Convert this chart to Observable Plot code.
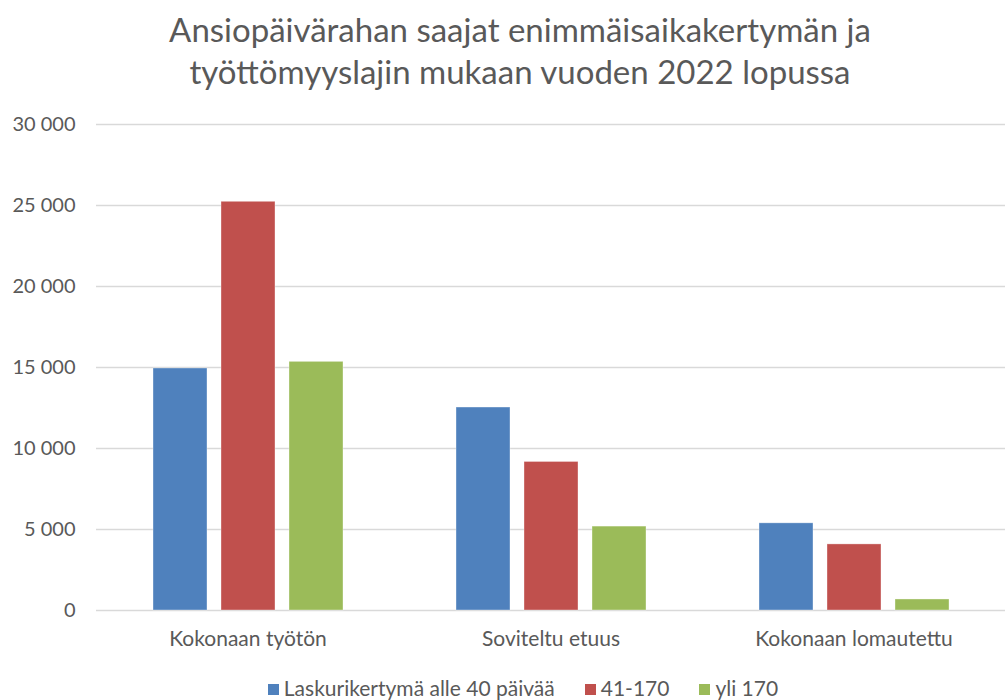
<!DOCTYPE html>
<html>
<head>
<meta charset="utf-8">
<script src="https://cdn.jsdelivr.net/npm/d3@7"></script>
<script src="https://cdn.jsdelivr.net/npm/@observablehq/plot@0.6"></script>
<style>
  html, body { margin: 0; padding: 0; background: #fff; }
  body { width: 1005px; height: 700px; position: relative; overflow: hidden; font-family: Lato, "Open Sans", sans-serif; color: #595959; }
  #title { position: absolute; left: 20px; width: 1000px; top: 8px; text-align: center; font-size: 33px; line-height: 42px; color: #595959; }
  #chart { position: absolute; left: 0; top: 100px; }
  #legend { position: absolute; left: 0; width: 1046px; top: 676px; text-align: center; font-size: 21px; line-height: 24px; color: #595959; white-space: nowrap; }
  #legend span.item { display: inline-block; margin: 0 15px; }
  #legend span.sw { display: inline-block; width: 11px; height: 11px; margin-right: 5px; vertical-align: 1px; }
</style>
</head>
<body>
<div id="title">Ansiopäivärahan saajat enimmäisaikakertymän ja<br>työttömyyslajin mukaan vuoden 2022 lopussa</div>
<div id="chart"></div>
<div id="legend"></div>
<script>
const categories = ["Kokonaan työtön", "Soviteltu etuus", "Kokonaan lomautettu"];
const series = ["Laskurikertymä alle 40 päivää", "41-170", "yli 170"];
const colors = ["#4f81bd", "#c0504d", "#9bbb59"];
const valuesAlle40 = [14940, 12530, 5380];
const values41_170 = [25230, 9170, 4080];
const valuesYli170 = [15350, 5180, 680];
const yTicks = [0, 5000, 10000, 15000, 20000, 25000, 30000];

const seriesValues = [valuesAlle40, values41_170, valuesYli170];
const data = [];
categories.forEach((c, i) => series.forEach((s, j) => data.push({category: c, series: s, value: seriesValues[j][i]})));

const fmt = d3.formatLocale({decimal: ",", thousands: " ", grouping: [3], currency: ["", ""]}).format(",d");

const chart = Plot.plot({
  width: 1005,
  height: 560,
  marginLeft: 95,
  marginRight: 0,
  marginTop: 24,
  marginBottom: 50,
  style: {fontFamily: "Lato, 'Open Sans', sans-serif", fontSize: "20px", color: "#595959", background: "#fff"},
  fx: {domain: categories, padding: 0, label: null},
  x: {domain: series, paddingInner: 0.21, paddingOuter: 0.82, axis: null},
  y: {domain: [0, 30000], ticks: yTicks, label: null},
  color: {domain: series, range: colors},
  marks: [
    Plot.ruleY(yTicks, {stroke: "#d9d9d9", strokeWidth: 1.5}),
    Plot.barY(data, {fx: "category", x: "series", y: "value", fill: "series", stroke: "#ffffff", strokeOpacity: 0.5, strokeWidth: 0.7}),
    Plot.axisY(yTicks, {tickSize: 0, tickPadding: 21, tickFormat: fmt, fontSize: 20, fill: "#595959", label: null}),
    Plot.axisFx({anchor: "bottom", tickSize: 0, tickPadding: 21, fontSize: 21, fill: "#595959", label: null})
  ]
});
document.getElementById("chart").appendChild(chart);

const legend = document.getElementById("legend");
series.forEach((s, i) => {
  const item = document.createElement("span");
  item.className = "item";
  const sw = document.createElement("span");
  sw.className = "sw";
  sw.style.background = colors[i];
  item.appendChild(sw);
  item.appendChild(document.createTextNode(s));
  legend.appendChild(item);
});
</script>
</body>
</html>
